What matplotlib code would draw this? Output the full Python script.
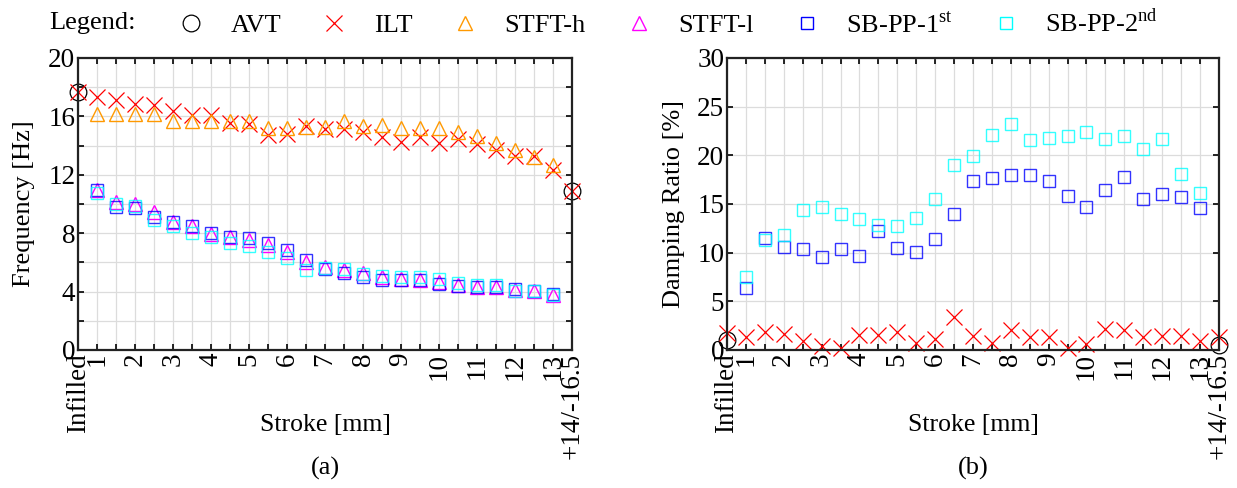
import matplotlib
matplotlib.use('Agg')
import matplotlib.pyplot as plt
from matplotlib.lines import Line2D
import numpy as np

plt.rcParams['font.family'] = ['Liberation Serif', 'DejaVu Serif']
plt.rcParams['mathtext.fontset'] = 'custom'
plt.rcParams['mathtext.rm'] = 'Liberation Serif'

# stroke positions: 0.5 = Infilled, 13.5 = +14/-16.5
stroke_all = np.arange(0.5, 13.51, 0.5)   # 27 points incl. ends
stroke_mid = np.arange(1.0, 13.01, 0.5)   # 25 points
stroke_end = [0.5, 13.5]

# (a) frequency [Hz]
freq_avt = [17.65, 10.86]
freq_ilt = [17.65, 17.33, 17.14, 16.87, 16.75, 16.39, 16.11, 16.07, 15.54, 15.5,
            14.74, 14.79, 15.36, 15.13, 15.15, 14.9, 14.58, 14.24, 14.58, 14.17,
            14.45, 14.08, 13.71, 13.26, 13.26, 12.3, 10.86]
freq_stft_h = [16.18, 16.18, 16.18, 16.18, 15.7, 15.7, 15.7, 15.66, 15.66, 15.2,
               15.2, 15.27, 15.27, 15.7, 15.36, 15.38, 15.18, 15.22, 15.2, 14.93,
               14.67, 14.19, 13.67, 13.19, 12.64]
freq_stft_l = [10.97, 10.17, 10.0, 9.44, 8.8, 8.46, 7.93, 7.77, 7.54, 7.2,
               6.74, 6.0, 5.71, 5.49, 5.26, 5.03, 4.85, 4.8, 4.69, 4.46,
               4.34, 4.3, 4.1, 4.07, 3.77]
freq_sb1 = [10.97, 9.78, 9.71, 9.14, 8.8, 8.5, 8.0, 7.77, 7.7, 7.31,
            6.86, 6.13, 5.53, 5.3, 5.03, 4.8, 4.8, 4.8, 4.53, 4.39,
            4.3, 4.3, 4.16, 4.07, 3.82]
freq_sb2 = [10.74, 10.0, 9.87, 8.91, 8.46, 8.0, 7.73, 7.31, 7.09, 6.74,
            6.29, 5.49, 5.6, 5.55, 5.21, 5.07, 5.03, 5.03, 4.85, 4.57,
            4.46, 4.46, 4.07, 4.07, 3.77]

# (b) damping ratio [%]
damp_avt = [1.0, 0.5]
damp_ilt = [1.71, 1.37, 1.89, 1.65, 0.96, 0.45, 0.24, 1.54, 1.54, 1.89,
            0.69, 1.1, 3.43, 1.47, 0.75, 2.06, 1.3, 1.3, 0.24, 0.62,
            2.13, 2.06, 1.37, 1.47, 1.44, 0.96, 1.37]
damp_sb1 = [6.41, 11.55, 10.63, 10.39, 9.6, 10.39, 9.67, 12.24, 10.46, 10.04,
            11.38, 13.95, 17.38, 17.65, 18.0, 18.0, 17.4, 15.84, 14.64, 16.46,
            17.76, 15.53, 16.0, 15.7, 14.54]
damp_sb2 = [7.54, 11.31, 11.83, 14.4, 14.74, 13.99, 13.44, 12.86, 12.75, 13.54,
            15.5, 18.96, 19.95, 22.04, 23.24, 21.6, 21.77, 21.94, 22.39, 21.67,
            22.0, 20.67, 21.67, 18.07, 16.11]

tick_pos = stroke_all
tick_labels = ['Infilled'] + [str(int(v)) if v == int(v) else '' for v in stroke_mid] + ['+14/-16.5']

c_orange = '#FF9900'
mk = dict(linestyle='none', markerfacecolor='none', clip_on=False)

fig = plt.figure(figsize=(12.37, 4.88), dpi=100)
ax1 = fig.add_axes([0.0631, 0.2828, 0.3994, 0.5984])
ax2 = fig.add_axes([0.5877, 0.2828, 0.3977, 0.5984])


def style(ax):
    ax.set_xlim(0.5, 13.5)
    ax.set_xticks(tick_pos)
    ax.set_xticklabels(tick_labels, rotation=90, ha='center', va='top')
    ax.tick_params(direction='in', top=True, right=True, length=4.5, width=1.2,
                   labelsize=19.5, pad=2)
    ax.grid(True, color='#dcdcdc', linewidth=0.9)
    ax.set_axisbelow(True)
    for s in ax.spines.values():
        s.set_linewidth(1.6)
        s.set_color('#222222')
    ax.set_xlabel('Stroke [mm]', fontsize=18.5)
    ax.xaxis.set_label_coords(0.5, -0.22)


# panel (a)
ax1.plot(stroke_end, freq_avt, marker='o', ms=12, mec='black', mew=0.9, **mk)
ax1.plot(stroke_all, freq_ilt, marker='x', ms=11, mec='red', mew=0.9, **mk)
ax1.plot(stroke_mid, freq_stft_h, marker='^', ms=10.5, mec=c_orange, mew=1.0, **mk)
ax1.plot(stroke_mid, freq_stft_l, marker='^', ms=10.5, mec='magenta', mew=1.0, **mk)
ax1.plot(stroke_mid, freq_sb1, marker='s', ms=8.5, mec='blue', mew=1.0, alpha=0.8, **mk)
ax1.plot(stroke_mid, freq_sb2, marker='s', ms=8.5, mec='cyan', mew=1.0, alpha=0.8, **mk)
style(ax1)
ax1.set_ylim(0, 20)
ax1.set_yticks(np.arange(0, 21, 2))
ax1.set_yticklabels([str(v) if v % 4 == 0 else '' for v in range(0, 21, 2)])
ax1.set_ylabel('Frequency [Hz]', fontsize=19)
ax1.yaxis.set_label_coords(-0.087, 0.5)
ax1.text(0.5, -0.404, '(a)', transform=ax1.transAxes, ha='center', va='center', fontsize=19)

# panel (b)
ax2.plot(stroke_end, damp_avt, marker='o', ms=12, mec='black', mew=0.9, **mk)
ax2.plot(stroke_all, damp_ilt, marker='x', ms=11, mec='red', mew=0.9, **mk)
ax2.plot(stroke_mid, damp_sb1, marker='s', ms=8.5, mec='blue', mew=1.0, alpha=0.8, **mk)
ax2.plot(stroke_mid, damp_sb2, marker='s', ms=8.5, mec='cyan', mew=1.0, alpha=0.8, **mk)
style(ax2)
ax2.set_ylim(0, 30)
ax2.set_yticks(np.arange(0, 31, 5))
ax2.set_ylabel('Damping Ratio [%]', fontsize=19)
ax2.yaxis.set_label_coords(-0.085, 0.5)
ax2.text(0.5, -0.404, '(b)', transform=ax2.transAxes, ha='center', va='center', fontsize=19)

# legend across the top
handles = [
    Line2D([], [], marker='o', ms=12, mec='black', mew=0.9, mfc='none', ls='none'),
    Line2D([], [], marker='x', ms=11, mec='red', mew=0.9, ls='none'),
    Line2D([], [], marker='^', ms=10.5, mec=c_orange, mew=1.0, mfc='none', ls='none'),
    Line2D([], [], marker='^', ms=10.5, mec='magenta', mew=1.0, mfc='none', ls='none'),
    Line2D([], [], marker='s', ms=8.5, mec='blue', mew=1.0, mfc='none', ls='none'),
    Line2D([], [], marker='s', ms=8.5, mec='cyan', mew=1.0, mfc='none', ls='none'),
]
labels = ['AVT', 'ILT', 'STFT-h', 'STFT-l', r'SB-PP-1$^{\mathrm{st}}$', r'SB-PP-2$^{\mathrm{nd}}$']
fig.text(0.04, 0.953, 'Legend:', fontsize=19, ha='left', va='center')
fig.legend(handles, labels, loc='center', bbox_to_anchor=(0.54, 0.953), ncol=6,
           frameon=False, fontsize=19, handlelength=1.0, handletextpad=1.0,
           columnspacing=1.5, borderpad=0.1)

fig.savefig('out.png', dpi=100)
